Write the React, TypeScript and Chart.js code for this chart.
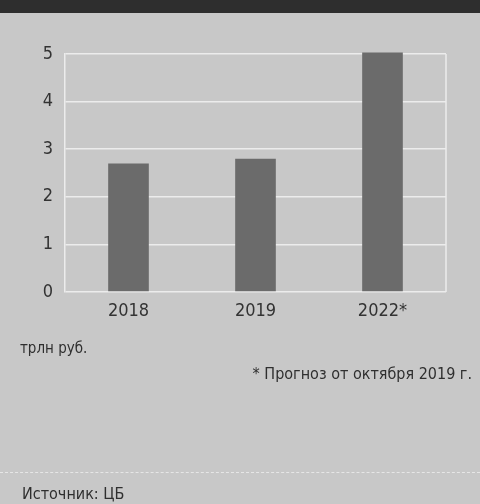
import { useEffect, useRef } from "react";
import { Chart, registerables } from "chart.js";

Chart.register(...registerables);

const categories = ["2018", "2019", "2022*"];
const values = [2.7, 2.8, 5.03];
const yMin = 0;
const yMax = 5;
const yStep = 1;

const unitLabel = "трлн руб.";
const footnote = "* Прогноз от октября 2019 г.";
const source = "Источник: ЦБ";

const FONT = "'DejaVu Sans Condensed', 'Liberation Sans Narrow', 'DejaVu Sans', sans-serif";

const rightBorder = {
  id: "rightBorder",
  afterDraw(chart: any) {
    const { ctx, chartArea } = chart;
    ctx.save();
    ctx.strokeStyle = "#ececec";
    ctx.lineWidth = 1.5;
    ctx.beginPath();
    ctx.moveTo(chartArea.right, chartArea.top);
    ctx.lineTo(chartArea.right, chartArea.bottom);
    ctx.stroke();
    ctx.restore();
  },
};

export default function App() {
  const ref = useRef<HTMLCanvasElement | null>(null);

  useEffect(() => {
    if (!ref.current) return;
    const chart = new Chart(ref.current, {
      type: "bar",
      data: {
        labels: categories,
        datasets: [
          {
            data: values,
            backgroundColor: "#6b6b6b",
            borderWidth: 0,
            barPercentage: 0.32,
            categoryPercentage: 1,
            clip: false as any,
          },
        ],
      },
      options: {
        animation: false,
        responsive: false,
        layout: { padding: { top: 54, right: 34, bottom: 172, left: 0 } },
        plugins: {
          legend: { display: false },
          tooltip: { enabled: false },
        },
        scales: {
          x: {
            grid: { display: false, drawTicks: false },
            border: { display: false },
            ticks: {
              color: "#333",
              font: { family: FONT, size: 18 },
              padding: 9,
            },
            afterFit: (s: any) => {
              s.height = 40;
            },
          },
          y: {
            min: yMin,
            max: yMax,
            grid: { color: "#ececec", lineWidth: 1.5, drawTicks: false },
            border: { display: true, color: "#ececec", width: 1.5 },
            ticks: {
              stepSize: yStep,
              color: "#333",
              font: { family: FONT, size: 18 },
              padding: 12,
            },
            afterFit: (s: any) => {
              s.width = 65;
            },
          },
        },
      },
      plugins: [rightBorder],
    });
    return () => chart.destroy();
  }, []);

  const text = (s: string, style: any) => (
    <div
      style={{
        position: "absolute",
        fontFamily: FONT,
        color: "#2f2f2f",
        lineHeight: "1",
        whiteSpace: "nowrap",
        ...style,
      }}
    >
      {s}
    </div>
  );

  return (
    <div
      style={{
        position: "absolute",
        left: 0,
        top: 0,
        width: 480,
        height: 504,
        background: "#c8c8c8",
        overflow: "hidden",
      }}
    >
      <div
        style={{
          position: "absolute",
          left: 0,
          top: 0,
          width: 480,
          height: 13,
          background: "#2e2e2e",
        }}
      />
      <canvas
        ref={ref}
        width={480}
        height={504}
        style={{ position: "absolute", left: 0, top: 0 }}
      />
      {text(unitLabel, { left: 20, top: 341, fontSize: 15 })}
      {text(footnote, { right: 8, top: 366, fontSize: 16 })}
      <div
        style={{
          position: "absolute",
          left: 0,
          top: 472,
          width: 480,
          borderTop: "1.5px dashed #e6e6e6",
        }}
      />
      {text(source, { left: 22, top: 486, fontSize: 16 })}
    </div>
  );
}
